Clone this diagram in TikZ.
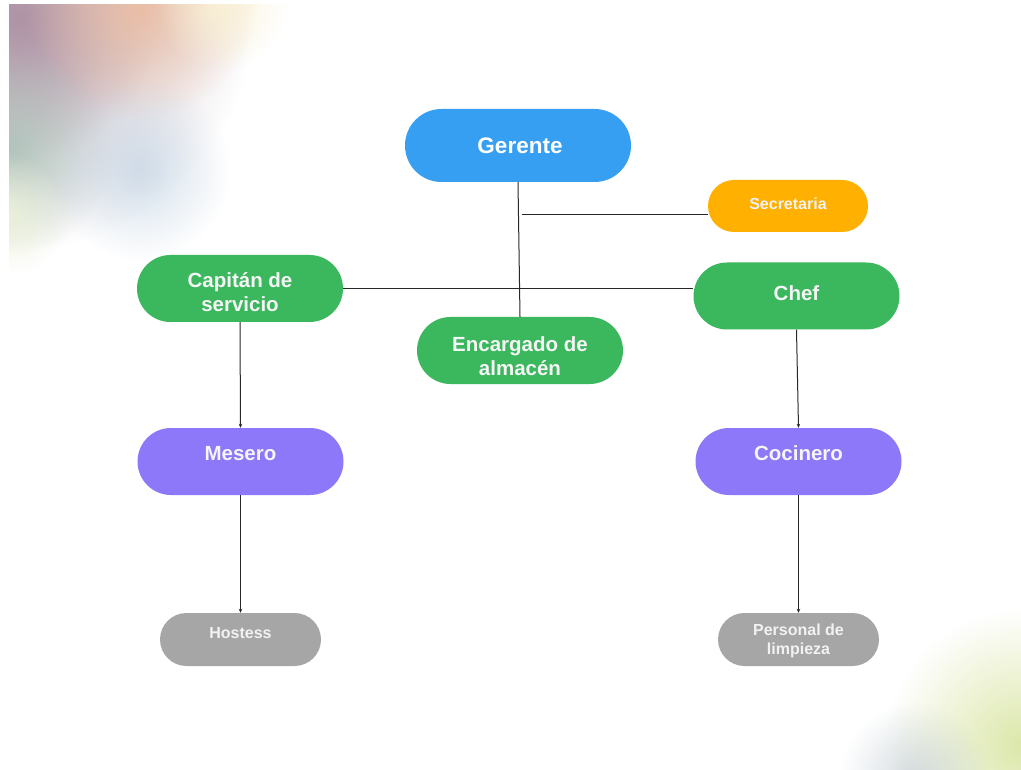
\documentclass[tikz,border=0pt]{standalone}
\usepackage{fontspec}
\setmainfont{Liberation Sans}
\usetikzlibrary{arrows.meta,fadings,positioning,calc}
\definecolor{cblue}{RGB}{54,159,241}
\definecolor{corange}{RGB}{255,176,0}
\definecolor{cgreen}{RGB}{59,183,94}
\definecolor{cpurple}{RGB}{140,120,248}
\definecolor{cgray}{RGB}{166,166,166}
\definecolor{cline}{RGB}{40,40,40}
\tikzfading[name=glow, inner color=transparent!0, outer color=transparent!100]
\tikzset{
  pill/.style={rectangle, inner sep=0pt, draw=none},
  boss/.style={pill, fill=cblue, minimum width=226pt, minimum height=73pt, rounded corners=36.5pt},
  sec/.style={pill, fill=corange, minimum width=160pt, minimum height=52pt, rounded corners=26pt},
  mid/.style={pill, fill=cgreen, minimum width=206pt, minimum height=67pt, rounded corners=33.5pt},
  low/.style={pill, fill=cpurple, minimum width=206pt, minimum height=67pt, rounded corners=33.5pt},
  base/.style={pill, fill=cgray, minimum width=161pt, minimum height=53pt, rounded corners=26.5pt},
  tbig/.style={text=white, font=\fontsize{22.5}{26}\selectfont\bfseries, align=center, inner sep=0pt},
  tmid/.style={text=white!96!black, font=\fontsize{20.5}{24}\selectfont\bfseries, align=center, inner sep=0pt},
  tsmall/.style={text=white!95!black, font=\fontsize{16}{19}\selectfont\bfseries, align=center, inner sep=0pt},
  link/.style={draw=cline, line width=1pt},
  arr/.style={link, -{Stealth[length=4pt,width=3.5pt]}},
  blob/.style={path fading=glow}
}
\begin{document}
\begin{tikzpicture}[x=1pt,y=-1pt]
\useasboundingbox (0,0) rectangle (1021,770);
\fill[white] (0,0) rectangle (1021,770);
% top-left gradient
\begin{scope}
\clip (9,5) rectangle (320,320);
\fill[blob, fill={rgb,255:red,192;green,176;blue,186}, fill opacity=1] (15,10) circle (240);
\fill[blob, fill={rgb,255:red,170;green,140;blue,160}, fill opacity=0.8] (20,20) circle (140);
\fill[blob, fill={rgb,255:red,236;green,188;blue,160}, fill opacity=0.9] (140,5) circle (115);
\fill[blob, fill={rgb,255:red,250;green,242;blue,212}, fill opacity=0.9] (222,5) circle (65);
\fill[blob, fill={rgb,255:red,165;green,192;blue,180}, fill opacity=0.8] (9,150) circle (105);
\fill[blob, fill={rgb,255:red,195;green,212;blue,228}, fill opacity=0.75] (140,170) circle (90);
\fill[blob, fill={rgb,255:red,236;green,242;blue,216}, fill opacity=0.85] (9,215) circle (60);
\end{scope}
% bottom-right gradient
\begin{scope}
\clip (700,560) rectangle (1021,770);
\fill[blob, fill={rgb,255:red,218;green,230;blue,165}, fill opacity=0.95] (1021,745) circle (135);
\fill[blob, fill={rgb,255:red,195;green,205;blue,212}, fill opacity=0.7] (915,778) circle (75);
\end{scope}
% nodes
\node[boss] (gerente) at (518,145.5) {};
\node[tbig] (gerente-t) at ([xshift=2pt]gerente.center) {Gerente};
\node[sec] (secretaria) at (788,206) {};
\node[tsmall] (secretaria-t) at ([yshift=2pt]secretaria.center) {Secretaria};
\node[mid] (capitan) at (240,288.5) {};
\node[tmid] (capitan-t) at ([yshift=-4pt]capitan.center) {Capitán de\\servicio};
\node[mid] (chef) at (796.5,296) {};
\node[tmid] (chef-t) at ([yshift=3pt]chef.center) {Chef};
\node[mid] (encargado) at (520,350.5) {};
\node[tmid] (encargado-t) at ([yshift=-6pt]encargado.center) {Encargado de\\almacén};
\node[low] (mesero) at (240.5,461.5) {};
\node[tmid] (mesero-t) at ([yshift=8pt]mesero.center) {Mesero};
\node[low] (cocinero) at (798.5,461.5) {};
\node[tmid] (cocinero-t) at ([yshift=8pt]cocinero.center) {Cocinero};
\node[base] (hostess) at (240.5,639.5) {};
\node[tsmall] (hostess-t) at ([yshift=6pt]hostess.center) {Hostess};
\node[base] (limpieza) at (798.5,639.5) {};
\node[tsmall] (limpieza-t) at ([yshift=-1pt]limpieza.center) {Personal de\\limpieza};
% connectors
\draw[link] (gerente.south) -- (encargado.north);
\coordinate (secj) at (522,215);
\draw[link] (secj) -- (secj -| secretaria.west);
\draw[link] (capitan.east) -- (capitan.east -| chef.west);
\draw[arr] (capitan.south) -- (mesero.north);
\draw[arr] (mesero.south) -- (hostess.north);
\draw[arr] (chef.south) -- (cocinero.north);
\draw[arr] (cocinero.south) -- (limpieza.north);
\end{tikzpicture}
\end{document}
